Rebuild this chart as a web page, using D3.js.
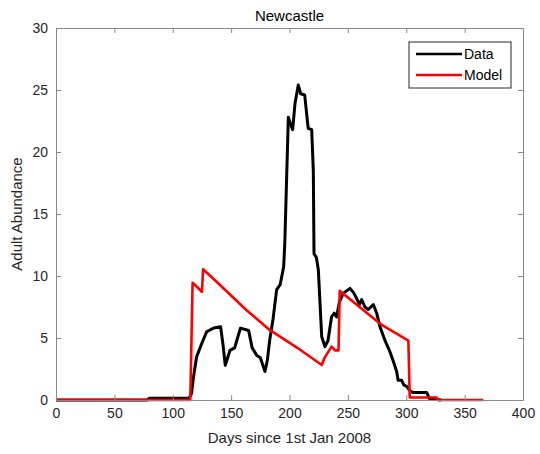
<!DOCTYPE html>
<html>
<head>
<meta charset="utf-8">
<script src="https://cdn.jsdelivr.net/npm/d3@7"></script>
<style>
  html, body { margin: 0; padding: 0; background: #fff; }
  svg { display: block; font-family: "Liberation Sans", Arial, Helvetica, sans-serif; }
</style>
</head>
<body>
<svg id="chart" width="540" height="454"></svg>
<script>
// Observed adult abundance (day, value)
const dataDays = [0, 78, 80, 114, 116, 118, 120.5, 125, 129, 135, 141, 143, 145, 149, 153, 158, 165, 168, 172, 175, 179, 181, 183, 186, 189, 192, 195, 196, 199, 200.4, 202.7, 204.7, 207.5, 209.6, 213, 216, 219, 220.4, 221, 223, 224.7, 227.6, 230.4, 233, 236, 238.4, 240.4, 242.7, 246, 251.8, 254.6, 257.5, 259.8, 261.8, 264.6, 267.5, 271.8, 274.7, 277.5, 281.8, 286, 289, 291.8, 293, 296, 298, 300.4, 303, 306, 314.6, 317.5, 320, 330];
const dataValues = [0, 0, 0.15, 0.15, 0.5, 2.0, 3.5, 4.6, 5.5, 5.8, 5.9, 4.5, 2.8, 4.0, 4.2, 5.8, 5.6, 4.2, 3.6, 3.4, 2.3, 3.2, 4.8, 6.6, 8.9, 9.3, 10.75, 12.7, 22.8, 22.4, 21.8, 23.9, 25.4, 24.7, 24.6, 21.9, 21.8, 18.5, 11.8, 11.5, 10.5, 5.1, 4.3, 4.8, 6.7, 7.0, 6.7, 7.9, 8.6, 9.0, 8.7, 8.2, 7.7, 8.1, 7.5, 7.3, 7.7, 7.0, 5.9, 4.8, 3.9, 3.1, 2.3, 1.6, 1.6, 1.2, 1.1, 0.75, 0.6, 0.6, 0.6, 0.1, 0];

// Model prediction (day, value)
const modelDays = [0, 115, 117, 125, 126, 140.5, 163, 183, 207, 227.6, 230, 236, 239, 242, 243, 260, 279, 301.8, 303, 326, 327, 366];
const modelValues = [0, 0, 9.46, 8.73, 10.54, 9.27, 7.26, 5.65, 4.19, 2.82, 3.4, 4.3, 4.0, 4.0, 8.8, 7.5, 6.05, 4.78, 0.2, 0.2, 0, 0];

const xTicks = [0, 50, 100, 150, 200, 250, 300, 350, 400];
const yTicks = [0, 5, 10, 15, 20, 25, 30];
const seriesNames = ["Data", "Model"];
const seriesColors = ["#000000", "#ff0000"];

const titleText = "Newcastle";
const xLabel = "Days since 1st Jan 2008";
const yLabel = "Adult Abundance";

const margin = { left: 56, right: 17, top: 28, bottom: 54 };
const W = 540, H = 454;
const svg = d3.select("#chart");
const iw = W - margin.left - margin.right;
const ih = H - margin.top - margin.bottom;

const x = d3.scaleLinear().domain([0, 400]).range([margin.left, margin.left + iw]);
const y = d3.scaleLinear().domain([0, 30]).range([margin.top + ih, margin.top]);

const axisColor = "#888888";
const textColor = "#262626";
const tickLen = 5;

// plot background
svg.append("rect")
  .attr("x", margin.left).attr("y", margin.top)
  .attr("width", iw).attr("height", ih)
  .attr("fill", "#fff");

// series
const line = d3.line().x(d => x(d[0])).y(d => y(d[1]));
const dataPts = dataDays.map((d, i) => [d, dataValues[i]]);
const modelPts = modelDays.map((d, i) => [d, modelValues[i]]);

svg.append("path").datum(dataPts)
  .attr("d", line).attr("fill", "none")
  .attr("stroke", seriesColors[0]).attr("stroke-width", 3)
  .attr("stroke-linejoin", "round");
svg.append("path").datum(modelPts)
  .attr("d", line).attr("fill", "none")
  .attr("stroke", seriesColors[1]).attr("stroke-width", 2.6)
  .attr("stroke-linejoin", "round");

// axes (inward ticks, boxed frame)
const xAxisB = d3.axisBottom(x).tickValues(xTicks).tickSizeInner(-tickLen).tickSizeOuter(0).tickPadding(8);
const xAxisT = d3.axisTop(x).tickValues(xTicks).tickSizeInner(-tickLen).tickSizeOuter(0).tickFormat("");
const yAxisL = d3.axisLeft(y).tickValues(yTicks).tickSizeInner(-tickLen).tickSizeOuter(0).tickPadding(8);
const yAxisR = d3.axisRight(y).tickValues(yTicks).tickSizeInner(-tickLen).tickSizeOuter(0).tickFormat("");

function styleAxis(g) {
  g.select(".domain").attr("stroke", axisColor).attr("stroke-width", 1);
  g.selectAll(".tick line").attr("stroke", axisColor);
  g.selectAll(".tick text").attr("fill", textColor).attr("font-size", 14)
    .attr("font-family", "'Liberation Sans', Arial, sans-serif");
}

svg.append("g").attr("transform", `translate(0,${margin.top + ih})`).call(xAxisB).call(styleAxis);
svg.append("g").attr("transform", `translate(0,${margin.top})`).call(xAxisT).call(styleAxis);
svg.append("g").attr("transform", `translate(${margin.left},0)`).call(yAxisL).call(styleAxis);
svg.append("g").attr("transform", `translate(${margin.left + iw},0)`).call(yAxisR).call(styleAxis);

// title & labels
svg.append("text")
  .attr("x", margin.left + iw / 2).attr("y", margin.top - 7)
  .attr("text-anchor", "middle").attr("font-size", 15).attr("fill", "#000")
  .text(titleText);

svg.append("text")
  .attr("x", margin.left + iw / 2).attr("y", 443)
  .attr("text-anchor", "middle").attr("font-size", 15).attr("fill", textColor)
  .text(xLabel);

svg.append("text")
  .attr("transform", `translate(22,${margin.top + ih / 2}) rotate(-90)`)
  .attr("text-anchor", "middle").attr("font-size", 15).attr("fill", textColor)
  .text(yLabel);

// legend
const lg = svg.append("g");
const lgX = 409, lgY = 42, lgW = 102, lgH = 46;
lg.append("rect")
  .attr("x", lgX).attr("y", lgY).attr("width", lgW).attr("height", lgH)
  .attr("fill", "#fff").attr("stroke", "#262626").attr("stroke-width", 1);
seriesNames.forEach((name, i) => {
  const cy = lgY + 12 + i * 21;
  lg.append("line")
    .attr("x1", lgX + 7).attr("x2", lgX + 53)
    .attr("y1", cy).attr("y2", cy)
    .attr("stroke", seriesColors[i]).attr("stroke-width", 2.6);
  lg.append("text")
    .attr("x", lgX + 55).attr("y", cy + 5)
    .attr("font-size", 14).attr("fill", "#000")
    .text(name);
});
</script>
</body>
</html>
